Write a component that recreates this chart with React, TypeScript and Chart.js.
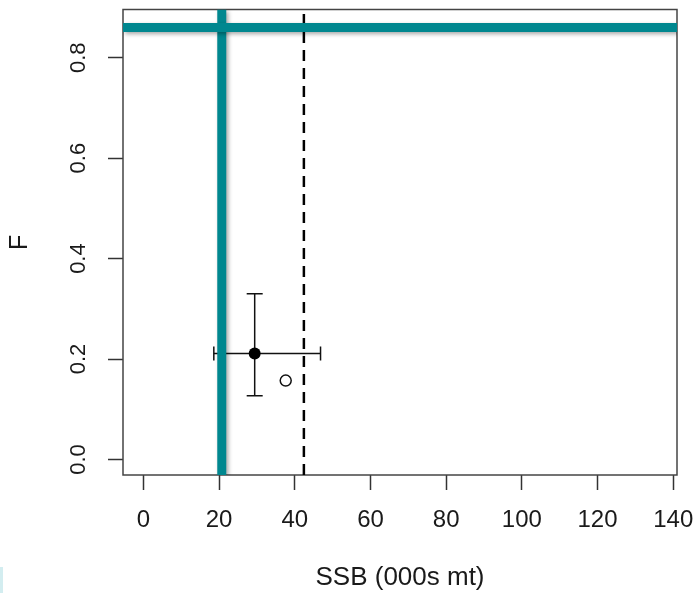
import React, { useEffect, useRef } from "react";
import { Chart, registerables } from "chart.js";

Chart.register(...registerables);

// Axis limits and ticks
const xLimits = [-5.4, 141];
const yLimits = [-0.031, 0.896];
const xTickStep = 20;
const yTickStep = 0.2;

// Reference points
const fReference = [0.86];        // horizontal teal line (F)
const ssbReference = [20.7];      // vertical teal line (SSB)
const ssbDashed = [42.4];         // dashed vertical line (SSB)

// Current estimate with intervals
const estSSB = [29.4];
const estF = [0.211];
const ssbInterval = [18.6, 46.8];
const fInterval = [0.127, 0.33];

// Open point
const openSSB = [37.6];
const openF = [0.157];

const TEAL = "#00878F";
const FONT = "'Liberation Sans', Arial, Helvetica, sans-serif";

const shadowPlugin = {
  id: "shadowPlugin",
  beforeDatasetDraw(chart: any, args: any) {
    const ds = chart.data.datasets[args.index];
    const ctx = chart.ctx;
    ctx.save();
    if (ds.shadow) {
      ctx.shadowColor = "rgba(0,0,0,0.35)";
      ctx.shadowBlur = 4;
      ctx.shadowOffsetX = 2;
      ctx.shadowOffsetY = 2;
    }
  },
  afterDatasetDraw(chart: any) {
    chart.ctx.restore();
  },
};

const boxPlugin = {
  id: "boxPlugin",
  beforeDatasetsDraw(chart: any) {
    const { ctx, chartArea } = chart;
    ctx.save();
    ctx.strokeStyle = "#444";
    ctx.lineWidth = 1.5;
    ctx.strokeRect(
      chartArea.left,
      chartArea.top,
      chartArea.right - chartArea.left,
      chartArea.bottom - chartArea.top
    );
    ctx.restore();
  },
  afterDraw(chart: any) {
    const { ctx } = chart;
    const ys = chart.scales.y;
    ctx.save();
    ctx.fillStyle = "#1a1a1a";
    ctx.font = `22px ${FONT}`;
    ctx.textAlign = "center";
    ctx.textBaseline = "middle";
    ys.ticks.forEach((t: any) => {
      const py = ys.getPixelForValue(t.value);
      ctx.save();
      ctx.translate(79, py);
      ctx.rotate(-Math.PI / 2);
      ctx.fillText(Number(t.value).toFixed(1), 0, 0);
      ctx.restore();
    });
    ctx.restore();
  },
};

const zeroPad = (s: any) => {
  s.paddingLeft = 0;
  s.paddingRight = 0;
  s.paddingTop = 0;
  s.paddingBottom = 0;
};

export default function App() {
  const ref = useRef<HTMLCanvasElement | null>(null);

  useEffect(() => {
    if (!ref.current) return;
    const chart = new Chart(ref.current, {
      type: "scatter",
      data: {
        datasets: [
          {
            label: "F reference",
            data: [
              { x: xLimits[0], y: fReference[0] },
              { x: xLimits[1], y: fReference[0] },
            ],
            showLine: true,
            borderColor: TEAL,
            borderWidth: 9,
            pointRadius: 0,
            borderCapStyle: "butt",
            order: 0,
            shadow: true,
          } as any,
          {
            label: "SSB reference",
            data: [
              { x: ssbReference[0], y: yLimits[0] },
              { x: ssbReference[0], y: yLimits[1] },
            ],
            showLine: true,
            borderColor: TEAL,
            borderWidth: 9,
            pointRadius: 0,
            borderCapStyle: "butt",
            order: 0,
            shadow: true,
          } as any,
          {
            label: "SSB dashed",
            data: [
              { x: ssbDashed[0], y: yLimits[0] },
              { x: ssbDashed[0], y: yLimits[1] },
            ],
            showLine: true,
            borderColor: "#000",
            borderWidth: 2.5,
            borderDash: [11, 7],
            pointRadius: 0,
            order: 1,
          },
          {
            label: "SSB interval",
            data: [
              { x: ssbInterval[0], y: estF[0] },
              { x: ssbInterval[1], y: estF[0] },
            ],
            showLine: true,
            borderColor: "#111",
            borderWidth: 1.5,
            pointStyle: "line",
            pointRotation: 90,
            pointRadius: 7,
            pointBorderColor: "#111",
            pointBorderWidth: 1.5,
            order: 2,
          },
          {
            label: "F interval",
            data: [
              { x: estSSB[0], y: fInterval[0] },
              { x: estSSB[0], y: fInterval[1] },
            ],
            showLine: true,
            borderColor: "#111",
            borderWidth: 1.5,
            pointStyle: "line",
            pointRotation: 0,
            pointRadius: 8,
            pointBorderColor: "#111",
            pointBorderWidth: 1.5,
            order: 2,
          },
          {
            label: "Estimate",
            data: estSSB.map((x, i) => ({ x, y: estF[i] })),
            pointRadius: 6,
            pointBackgroundColor: "#000",
            pointBorderColor: "#000",
            pointBorderWidth: 0,
            order: 0,
          },
          {
            label: "Open",
            data: openSSB.map((x, i) => ({ x, y: openF[i] })),
            pointRadius: 5.5,
            pointBackgroundColor: "#fff",
            pointBorderColor: "#111",
            pointBorderWidth: 1.5,
            order: 0,
          },
        ],
      },
      options: {
        animation: false,
        responsive: false,
        maintainAspectRatio: false,
        events: [],
        layout: { padding: { left: 0, right: 17, top: 8.5, bottom: 0 } },
        plugins: {
          legend: { display: false },
          tooltip: { enabled: false },
        },
        scales: {
          x: {
            type: "linear",
            min: xLimits[0],
            max: xLimits[1],
            afterFit: (s: any) => {
              s.height = 118;
              zeroPad(s);
            },
            ticks: {
              stepSize: xTickStep,
              includeBounds: false,
              maxRotation: 0,
              minRotation: 0,
              padding: 16,
              color: "#1a1a1a",
              font: { family: FONT, size: 24 },
              callback: (v: any) => String(v),
            },
            grid: {
              display: true,
              drawOnChartArea: false,
              drawTicks: true,
              tickLength: 15,
              tickColor: "#333",
              tickWidth: 1.5,
            },
            border: { display: false },
            title: {
              display: true,
              text: "SSB (000s mt)",
              color: "#1a1a1a",
              font: { family: FONT, size: 26 },
              padding: { top: 0, bottom: 0 },
            },
          },
          y: {
            type: "linear",
            min: yLimits[0],
            max: yLimits[1],
            afterFit: (s: any) => {
              s.width = 123;
              zeroPad(s);
            },
            ticks: {
              stepSize: yTickStep,
              includeBounds: false,
              color: "rgba(0,0,0,0)",
              font: { family: FONT, size: 22 },
              callback: (v: any) => Number(v).toFixed(1),
            },
            grid: {
              display: true,
              drawOnChartArea: false,
              drawTicks: true,
              tickLength: 15,
              tickColor: "#333",
              tickWidth: 1.5,
            },
            border: { display: false },
            title: {
              display: true,
              text: "F",
              color: "#1a1a1a",
              font: { family: FONT, size: 25 },
              padding: { top: 5, bottom: 0 },
            },
          },
        },
      },
      plugins: [shadowPlugin, boxPlugin],
    } as any);
    return () => chart.destroy();
  }, []);

  return (
    <div style={{ position: "fixed", left: 0, top: 0, width: 694, height: 593, background: "#fff" }}>
      <canvas ref={ref} width={694} height={593} style={{ width: 694, height: 593, display: "block" }} />
      <div style={{ position: "absolute", left: 0, top: 567, width: 3, height: 26, background: "#d3edf0" }} />
    </div>
  );
}
